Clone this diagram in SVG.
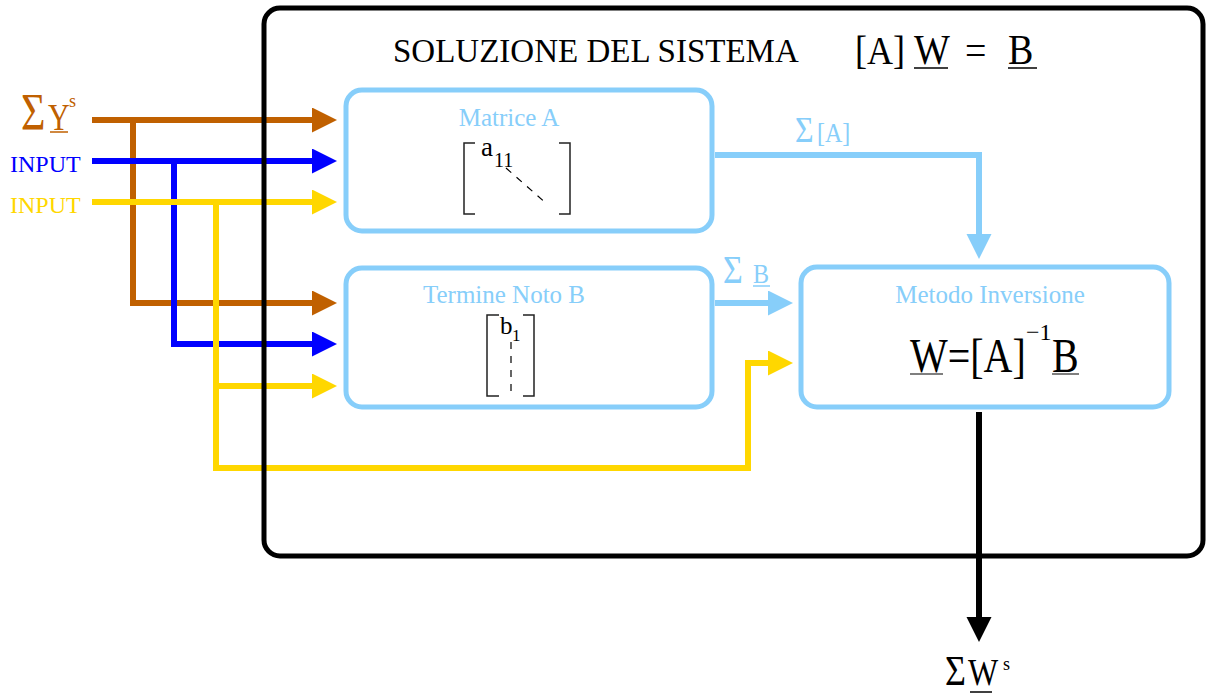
<svg xmlns="http://www.w3.org/2000/svg" width="1206" height="694" viewBox="0 0 1206 694">
<style>
.lbl{fill:#87CEFA;font-size:25px}
.box{fill:#fff;stroke:#87CEFA;stroke-width:5}
.c{fill:none;stroke-linejoin:miter;stroke-linecap:butt;stroke-width:6}
.br{stroke:#C06000}.bl{stroke:#0000FF}.ye{stroke:#FFD700}.lb{stroke:#87CEFA}.bk{stroke:#000}
.mx{fill:none;stroke:#222;stroke-width:1.5}
.dash{fill:none;stroke:#000;stroke-width:1.2;stroke-dasharray:7,7}
</style>
<defs>
<marker id="aBr" markerUnits="userSpaceOnUse" markerWidth="26" markerHeight="26" refX="0" refY="12.5" orient="auto"><path d="M0,0 L25,12.5 L0,25 z" fill="#C06000"/></marker>
<marker id="aBl" markerUnits="userSpaceOnUse" markerWidth="26" markerHeight="26" refX="0" refY="12.5" orient="auto"><path d="M0,0 L25,12.5 L0,25 z" fill="#0000FF"/></marker>
<marker id="aYe" markerUnits="userSpaceOnUse" markerWidth="26" markerHeight="26" refX="0" refY="12.5" orient="auto"><path d="M0,0 L25,12.5 L0,25 z" fill="#FFD700"/></marker>
<marker id="aLb" markerUnits="userSpaceOnUse" markerWidth="26" markerHeight="26" refX="0" refY="12.5" orient="auto"><path d="M0,0 L25,12.5 L0,25 z" fill="#87CEFA"/></marker>
<marker id="aBk" markerUnits="userSpaceOnUse" markerWidth="26" markerHeight="26" refX="0" refY="12.5" orient="auto"><path d="M0,0 L25,12.5 L0,25 z" fill="#000"/></marker>
</defs>

<g id="connectors">
<path class="c br" d="M92,120 H312" marker-end="url(#aBr)"/>
<path class="c br" d="M133,120 V303 H312" marker-end="url(#aBr)"/>
<path class="c bl" d="M92,161 H312" marker-end="url(#aBl)"/>
<path class="c bl" d="M174,161 V344 H312" marker-end="url(#aBl)"/>
<path class="c ye" d="M92,202 H312" marker-end="url(#aYe)"/>
<path class="c ye" d="M216,202 V386 H312" marker-end="url(#aYe)"/>
<path class="c ye" d="M216,386 V468 H748 V363 H768" marker-end="url(#aYe)"/>
<path class="c lb" d="M715,155 H979 V234" marker-end="url(#aLb)"/>
<path class="c lb" d="M715,303 H768" marker-end="url(#aLb)"/>
<path class="c bk" d="M979,412 V617" marker-end="url(#aBk)"/>
</g>

<g id="frame">
<rect x="264" y="8" width="939" height="548" rx="16" fill="none" stroke="#000" stroke-width="5"/>
<text font-family="Liberation Serif" x="393" y="62" font-size="33" fill="#000">SOLUZIONE DEL SISTEMA</text>
<g transform="translate(855,64) scale(1,1.1)" fill="#000">
<text font-family="Liberation Serif" font-size="36" x="0" y="0">[A]</text>
<text font-family="Liberation Serif" font-size="38" x="59" y="0">W</text>
<text font-family="Liberation Serif" font-size="38" x="110" y="0">=</text>
<text font-family="Liberation Serif" font-size="38" x="153" y="0">B</text>
</g>
<line x1="914" y1="68" x2="948" y2="68" stroke="#000" stroke-width="1.5"/>
<line x1="1008" y1="68" x2="1037" y2="68" stroke="#000" stroke-width="1.5"/>
</g>

<g id="input-y">
<g transform="translate(21,130) scale(1,1.25)" fill="#C06000">
<text font-family="Liberation Serif" x="0" y="0" font-size="42">Σ</text>
<text font-family="Liberation Serif" x="27" y="0" font-size="30">Y</text>
</g>
<text font-family="Liberation Serif" x="69" y="107" font-size="18" fill="#C06000">s</text>
<line x1="50" y1="132" x2="68" y2="132" stroke="#C06000" stroke-width="1.5"/>
</g>
<g id="input-blue"><text font-family="Liberation Serif" x="10" y="172" font-size="24" fill="#0000FF">INPUT</text></g>
<g id="input-yellow"><text font-family="Liberation Serif" x="10" y="213" font-size="24" fill="#FFD700">INPUT</text></g>

<g id="matriceA">
<rect class="box" x="346" y="90" width="366" height="141" rx="16"/>
<text font-family="Liberation Serif" class="lbl" x="509" y="126" text-anchor="middle">Matrice A</text>
<path class="mx" d="M475,143 H464 V214 H475 M559,143 H570 V214 H559"/>
<text font-family="Liberation Serif" x="481" y="156" font-size="27" fill="#000">a</text>
<text font-family="Liberation Serif" x="494" y="167" font-size="20" fill="#000">11</text>
<path class="dash" d="M506,168 L547,204"/>
</g>

<g id="termineB">
<rect class="box" x="346" y="268" width="366" height="139" rx="16"/>
<text font-family="Liberation Serif" class="lbl" x="504" y="303" text-anchor="middle">Termine Noto B</text>
<path class="mx" d="M499,315 H487 V396 H499 M523,315 H534 V396 H523"/>
<text font-family="Liberation Serif" x="500" y="334" font-size="25" fill="#000">b</text>
<text font-family="Liberation Serif" x="512" y="341" font-size="17" fill="#000">1</text>
<path class="dash" d="M511,342 V396"/>
</g>

<g id="metodo">
<rect class="box" x="801" y="267" width="368" height="140" rx="16"/>
<text font-family="Liberation Serif" class="lbl" x="990" y="303" text-anchor="middle">Metodo Inversione</text>
<g transform="translate(910,372) scale(1,1.2)" fill="#000">
<text font-family="Liberation Serif" font-size="40" x="0" y="0">W=[A]</text>
<text font-family="Liberation Serif" font-size="40" x="142" y="0">B</text>
</g>
<text font-family="Liberation Serif" x="1026" y="340" font-size="24" fill="#000">−1</text>
<line x1="910" y1="374" x2="943" y2="374" stroke="#555" stroke-width="1.5"/>
<line x1="1052" y1="374" x2="1079" y2="374" stroke="#555" stroke-width="1.5"/>
</g>

<g id="labels">
<g transform="translate(795,142) scale(1,1.15)" fill="#87CEFA">
<text font-family="Liberation Serif" x="0" y="0" font-size="32">Σ</text>
<text font-family="Liberation Serif" x="22" y="0" font-size="24">[A]</text>
</g>
<g transform="translate(723,283) scale(1,1.15)" fill="#87CEFA">
<text font-family="Liberation Serif" x="0" y="0" font-size="34">Σ</text>
<text font-family="Liberation Serif" x="30" y="0" font-size="24">B</text>
</g>
<line x1="753" y1="286" x2="770" y2="286" stroke="#87CEFA" stroke-width="1.5"/>
</g>

<g id="output">
<g transform="translate(945,685) scale(1,1.2)" fill="#000">
<text font-family="Liberation Serif" x="0" y="0" font-size="36">Σ</text>
<text font-family="Liberation Serif" x="23" y="0" font-size="32">W</text>
</g>
<text font-family="Liberation Serif" x="1003" y="670" font-size="18" fill="#000">s</text>
<line x1="970" y1="692" x2="992" y2="692" stroke="#000" stroke-width="1.5"/>
</g>
</svg>
